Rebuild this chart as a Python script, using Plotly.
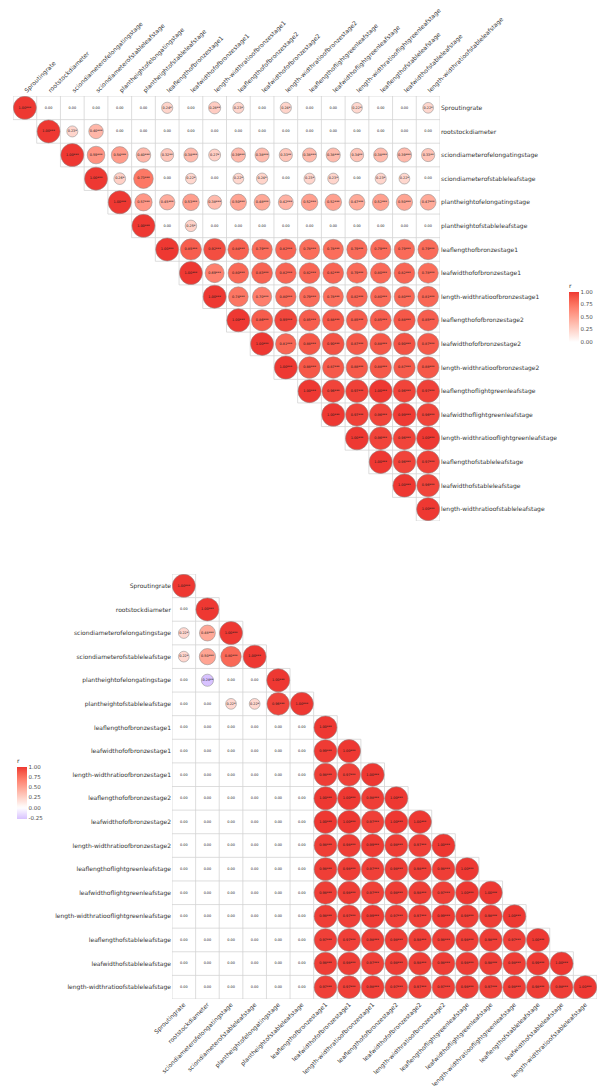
import math
import plotly.graph_objects as go

# Trait names (same order on both matrices)
variables = [
    "Sproutingrate",
    "rootstockdiameter",
    "sciondiameterofelongatingstage",
    "sciondiameterofstableleafstage",
    "plantheightofelongatingstage",
    "plantheightofstableleafstage",
    "leaflengthofbronzestage1",
    "leafwidthofofbronzestage1",
    "length-widthratioofbronzestage1",
    "leaflengthofofbronzestage2",
    "leafwidthofofbronzestage2",
    "length-widthratioofbronzestage2",
    "leaflengthoflightgreenleafstage",
    "leafwidthoflightgreenleafstage",
    "length-widthratiooflightgreenleafstage",
    "leaflengthofstableleafstage",
    "leafwidthofstableleafstage",
    "length-widthratioofstableleafstage",
]

# Upper matrix: row i holds r for columns i..17 (non-significant set to 0)
top_upper = [
    [1.00, 0.00, 0.00, 0.00, 0.00, 0.00, 0.24, 0.00, 0.28, 0.23, 0.00, 0.24, 0.00, 0.00, 0.22, 0.00, 0.00, 0.22],
    [1.00, 0.23, 0.40, 0.00, 0.00, 0.00, 0.00, 0.00, 0.00, 0.00, 0.00, 0.00, 0.00, 0.00, 0.00, 0.00, 0.00],
    [1.00, 0.59, 0.54, 0.40, 0.32, 0.38, 0.27, 0.39, 0.38, 0.33, 0.38, 0.38, 0.34, 0.38, 0.39, 0.33],
    [1.00, 0.26, 0.73, 0.00, 0.22, 0.00, 0.22, 0.24, 0.00, 0.23, 0.23, 0.00, 0.23, 0.22, 0.00],
    [1.00, 0.57, 0.45, 0.53, 0.38, 0.50, 0.48, 0.42, 0.52, 0.52, 0.47, 0.52, 0.50, 0.47],
    [1.00, 0.00, 0.25, 0.00, 0.00, 0.00, 0.00, 0.00, 0.00, 0.00, 0.00, 0.00, 0.00],
    [1.00, 0.85, 0.92, 0.84, 0.79, 0.82, 0.78, 0.78, 0.79, 0.79, 0.79, 0.79],
    [1.00, 0.69, 0.80, 0.83, 0.82, 0.82, 0.82, 0.79, 0.80, 0.82, 0.78],
    [1.00, 0.74, 0.70, 0.80, 0.79, 0.78, 0.82, 0.80, 0.80, 0.81],
    [1.00, 0.86, 0.95, 0.85, 0.88, 0.85, 0.85, 0.88, 0.85],
    [1.00, 0.81, 0.88, 0.90, 0.87, 0.88, 0.90, 0.87],
    [1.00, 0.88, 0.87, 0.88, 0.88, 0.87, 0.88],
    [1.00, 0.96, 0.97, 1.00, 0.96, 0.97],
    [1.00, 0.97, 0.96, 0.99, 0.96],
    [1.00, 0.96, 0.96, 1.00],
    [1.00, 0.96, 0.97],
    [1.00, 0.96],
    [1.00],
]

# Lower matrix: row i holds r for columns 0..i
bottom_lower = [
    [1.00],
    [0.00, 1.00],
    [0.22, 0.48, 1.00],
    [0.22, 0.50, 0.80, 1.00],
    [0.00, -0.28, 0.00, 0.00, 1.00],
    [0.00, 0.00, 0.22, 0.22, 0.96, 1.00],
    [0.00, 0.00, 0.00, 0.00, 0.00, 0.00, 1.00],
    [0.00, 0.00, 0.00, 0.00, 0.00, 0.00, 0.99, 1.00],
    [0.00, 0.00, 0.00, 0.00, 0.00, 0.00, 0.98, 0.97, 1.00],
    [0.00, 0.00, 0.00, 0.00, 0.00, 0.00, 1.00, 1.00, 0.98, 1.00],
    [0.00, 0.00, 0.00, 0.00, 0.00, 0.00, 1.00, 1.00, 0.97, 1.00, 1.00],
    [0.00, 0.00, 0.00, 0.00, 0.00, 0.00, 0.98, 0.98, 0.99, 0.98, 0.97, 1.00],
    [0.00, 0.00, 0.00, 0.00, 0.00, 0.00, 0.98, 0.98, 0.97, 0.98, 0.98, 0.98, 1.00],
    [0.00, 0.00, 0.00, 0.00, 0.00, 0.00, 0.98, 0.98, 0.97, 0.98, 0.98, 0.97, 1.00, 1.00],
    [0.00, 0.00, 0.00, 0.00, 0.00, 0.00, 0.98, 0.97, 0.99, 0.97, 0.97, 0.99, 0.98, 0.98, 1.00],
    [0.00, 0.00, 0.00, 0.00, 0.00, 0.00, 0.97, 0.97, 0.98, 0.98, 0.98, 0.98, 0.98, 0.98, 0.97, 1.00],
    [0.00, 0.00, 0.00, 0.00, 0.00, 0.00, 0.98, 0.98, 0.97, 0.98, 0.98, 0.98, 0.98, 0.98, 0.98, 0.99, 1.00],
    [0.00, 0.00, 0.00, 0.00, 0.00, 0.00, 0.97, 0.97, 0.98, 0.97, 0.97, 0.97, 0.98, 0.97, 0.98, 0.98, 0.98, 1.00],
]

top_ticks = [0.00, 0.25, 0.50, 0.75, 1.00]
bottom_ticks = [-0.25, 0.00, 0.25, 0.50, 0.75, 1.00]

N = len(variables)
W, H = 600, 1086
MAX_D = 23.0            # circle diameter for |r| = 1
LABEL_FONT = dict(family="DejaVu Sans", size=6, color="#333333")
GRID_COLOR = "#cfcfcf"

LOW, MID, HIGH = (40, 40, 255), (255, 255, 255), (238, 56, 50)


# --- Lab interpolation for the diverging fill -----------------------------
def _to_lin(c):
    c = c / 255.0
    return c / 12.92 if c <= 0.04045 else ((c + 0.055) / 1.055) ** 2.4


def _from_lin(c):
    c = 12.92 * c if c <= 0.0031308 else 1.055 * c ** (1 / 2.4) - 0.055
    return max(0, min(255, round(c * 255)))


def rgb_to_lab(rgb):
    r, g, b = (_to_lin(v) for v in rgb)
    x = (0.4124 * r + 0.3576 * g + 0.1805 * b) / 0.95047
    y = 0.2126 * r + 0.7152 * g + 0.0722 * b
    z = (0.0193 * r + 0.1192 * g + 0.9505 * b) / 1.08883
    f = lambda t: t ** (1 / 3) if t > 0.008856 else 7.787 * t + 16 / 116
    fx, fy, fz = f(x), f(y), f(z)
    return 116 * fy - 16, 500 * (fx - fy), 200 * (fy - fz)


def lab_to_rgb(lab):
    L, a, bb = lab
    fy = (L + 16) / 116
    fx, fz = fy + a / 500, fy - bb / 200
    g = lambda t: t ** 3 if t ** 3 > 0.008856 else (t - 16 / 116) / 7.787
    x, y, z = g(fx) * 0.95047, g(fy), g(fz) * 1.08883
    r = 3.2406 * x - 1.5372 * y - 0.4986 * z
    gg = -0.9689 * x + 1.8758 * y + 0.0415 * z
    b = 0.0557 * x - 0.2040 * y + 1.0570 * z
    return tuple(_from_lin(max(0.0, v)) for v in (r, gg, b))


def r_color(v):
    end = HIGH if v >= 0 else LOW
    t = min(1.0, abs(v))
    l1, l2 = rgb_to_lab(MID), rgb_to_lab(end)
    lab = tuple(p + (q - p) * t for p, q in zip(l1, l2))
    return "rgb(%d,%d,%d)" % lab_to_rgb(lab)


def colorscale(cmin, cmax, steps=24):
    return [[k / steps, r_color(cmin + (cmax - cmin) * k / steps)] for k in range(steps + 1)]


def stars(v):
    a = abs(v)
    if a >= 0.36:
        return "***"
    if a >= 0.28:
        return "**"
    if a >= 0.22:
        return "*"
    return ""


def cells_upper(rows):
    for i, row in enumerate(rows):
        for k, v in enumerate(row):
            yield i, i + k, v


def cells_lower(rows):
    for i, row in enumerate(rows):
        for j, v in enumerate(row):
            yield i, j, v


def grid_segments(cells):
    segs = set()
    for i, j, _ in cells:
        x0, x1, y0, y1 = j - 0.5, j + 0.5, i - 0.5, i + 0.5
        segs.update({(x0, y0, x1, y0), (x0, y1, x1, y1), (x0, y0, x0, y1), (x1, y0, x1, y1)})
    xs, ys = [], []
    for x0, y0, x1, y1 in sorted(segs):
        xs += [x0, x1, None]
        ys += [y0, y1, None]
    return xs, ys


def add_matrix(fig, cells, xa, ya, cax):
    cells = list(cells)
    gx, gy = grid_segments(cells)
    fig.add_trace(go.Scatter(x=gx, y=gy, mode="lines", xaxis=xa, yaxis=ya,
                             line=dict(color=GRID_COLOR, width=0.7),
                             hoverinfo="skip", showlegend=False))
    circ = [c for c in cells if c[2] != 0]
    fig.add_trace(go.Scatter(
        x=[c[1] for c in circ], y=[c[0] for c in circ], mode="markers",
        xaxis=xa, yaxis=ya, showlegend=False,
        marker=dict(size=[MAX_D * math.sqrt(abs(c[2])) for c in circ],
                    color=[c[2] for c in circ], coloraxis=cax, opacity=1,
                    line=dict(color="rgba(140,140,140,0.9)", width=0.6)),
        hovertemplate="r = %{marker.color:.2f}<extra></extra>"))
    fig.add_trace(go.Scatter(
        x=[c[1] for c in cells], y=[c[0] for c in cells], mode="text",
        xaxis=xa, yaxis=ya, showlegend=False, hoverinfo="skip",
        text=["%.2f%s" % (c[2], stars(c[2])) for c in cells],
        textfont=dict(family="DejaVu Sans", size=3.4, color="#1a1a1a")))


fig = go.Figure()
add_matrix(fig, cells_upper(top_upper), "x", "y", "coloraxis")
add_matrix(fig, cells_lower(bottom_lower), "x2", "y2", "coloraxis2")

bottom_min = min(v for row in bottom_lower for v in row)


def px_x(a, b):
    return [a / W, b / W]


def px_y(top, bottom):
    return [1 - bottom / H, 1 - top / H]


axis_common = dict(range=[-0.5, N - 0.5], tickvals=list(range(N)), ticktext=variables,
                   showgrid=False, zeroline=False, showline=False, ticks="",
                   tickfont=LABEL_FONT, fixedrange=True, automargin=False)
yaxis_common = dict(axis_common, range=[N - 0.5, -0.5])

cbar_common = dict(thickness=10, thicknessmode="pixels", lenmode="pixels",
                   outlinewidth=0, xpad=0, ypad=0, ticks="",
                   xref="container", yref="container",
                   tickfont=dict(family="DejaVu Sans", size=5.5, color="#4d4d4d"),
                   title=dict(text="r", side="top",
                              font=dict(family="DejaVu Sans", size=6, color="#333333")))

fig.update_layout(
    width=W, height=H, margin=dict(l=0, r=0, t=0, b=0, autoexpand=False),
    paper_bgcolor="white", plot_bgcolor="white",
    xaxis=dict(axis_common, domain=px_x(13, 440), side="top", tickangle=-45, anchor="y"),
    yaxis=dict(yaxis_common, domain=px_y(96, 521), side="right", anchor="x"),
    xaxis2=dict(axis_common, domain=px_x(172, 597), side="bottom", tickangle=-45, anchor="y2"),
    yaxis2=dict(yaxis_common, domain=px_y(574, 999), side="left", anchor="x2"),
    coloraxis=dict(cmin=0, cmax=1, colorscale=colorscale(0, 1),
                   colorbar=dict(cbar_common, x=569 / W, xanchor="left",
                                 y=1 - 280 / H, yanchor="top", len=62,
                                 tickvals=top_ticks,
                                 ticktext=["%.2f" % t for t in top_ticks])),
    coloraxis2=dict(cmin=bottom_min, cmax=1, colorscale=colorscale(bottom_min, 1),
                    colorbar=dict(cbar_common, x=17 / W, xanchor="left",
                                  y=1 - 755 / H, yanchor="top", len=64,
                                  tickvals=bottom_ticks,
                                  ticktext=["%.2f" % t for t in bottom_ticks])),
)

fig.write_html("out.html")
